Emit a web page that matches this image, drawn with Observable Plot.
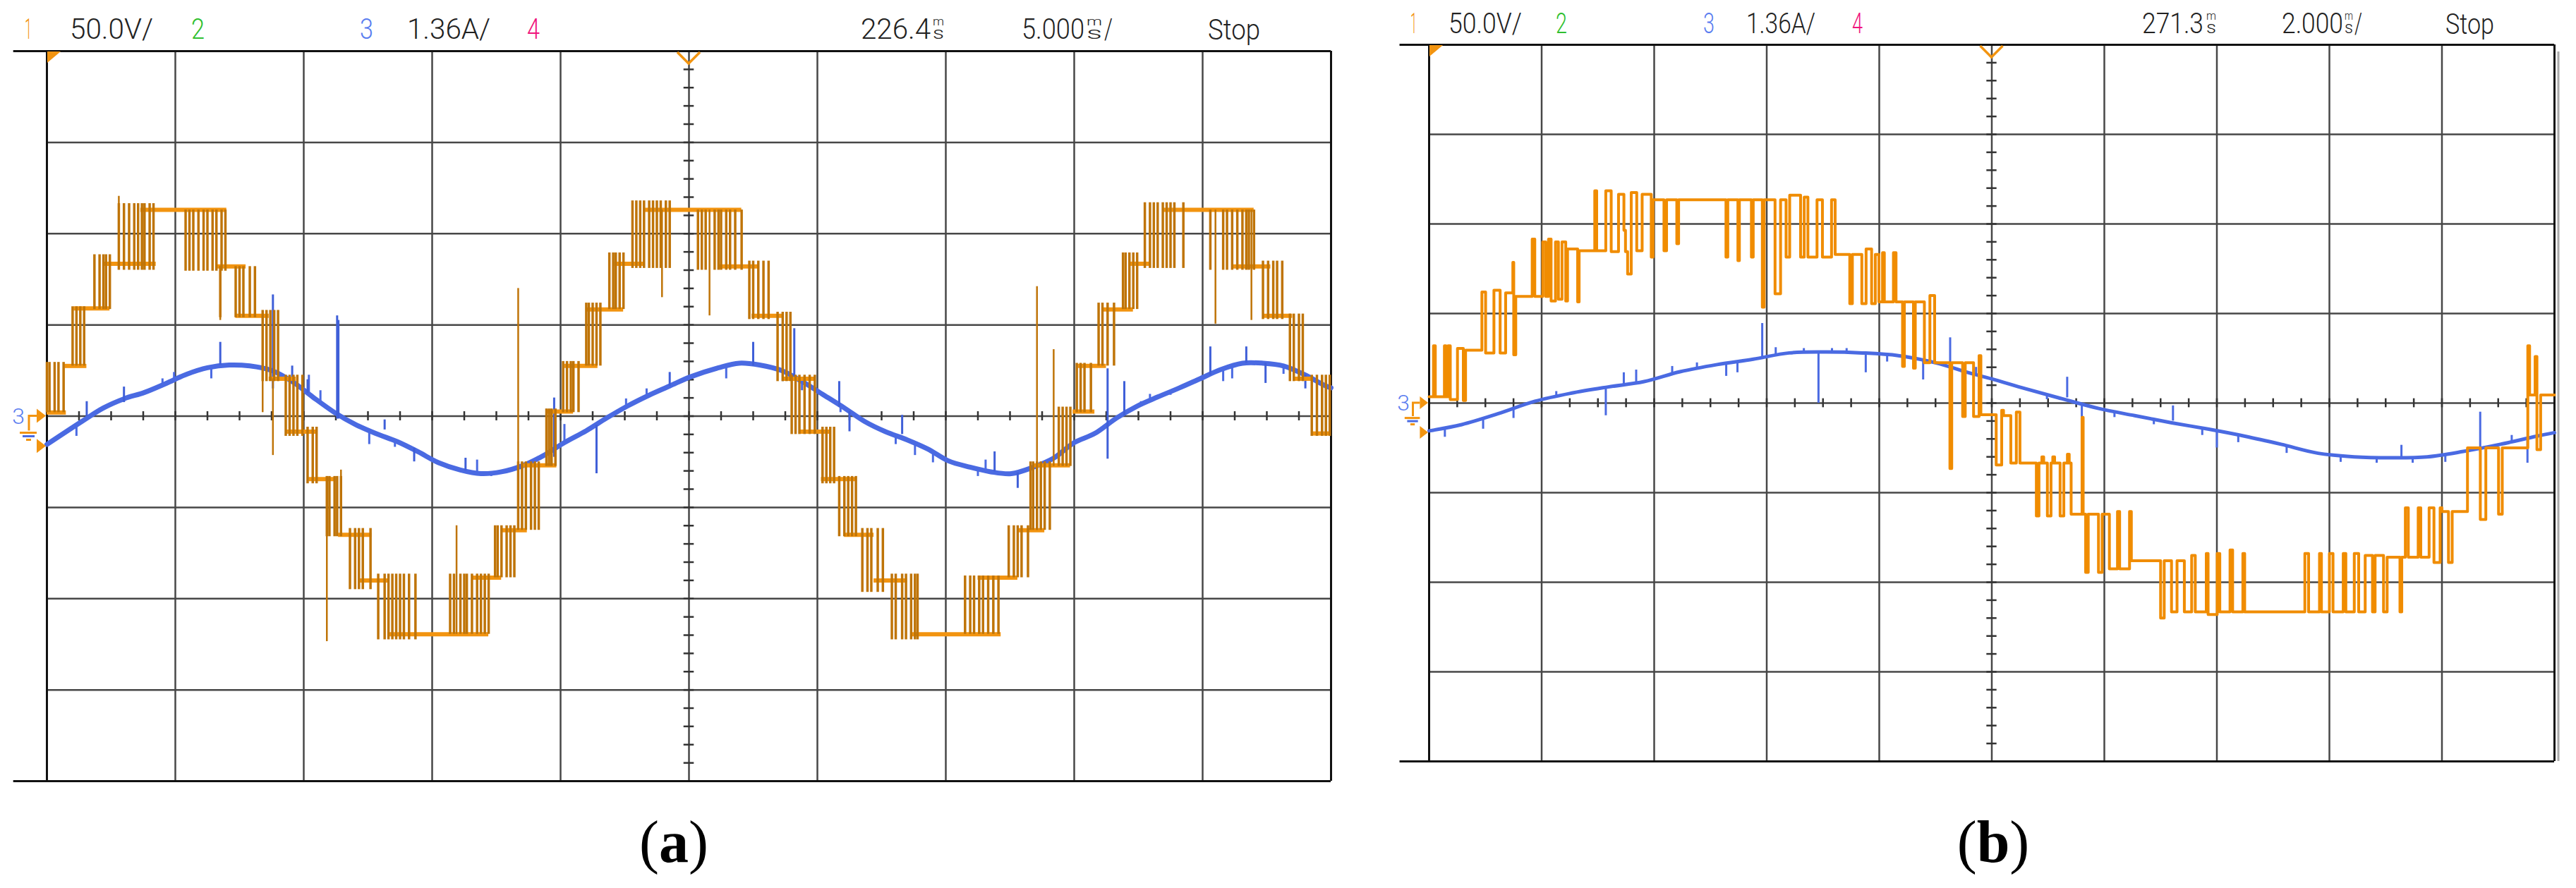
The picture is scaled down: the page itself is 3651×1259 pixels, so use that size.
<!DOCTYPE html>
<html><head><meta charset="utf-8">
<script src="https://cdn.jsdelivr.net/npm/d3@7"></script>
<script src="https://cdn.jsdelivr.net/npm/@observablehq/plot@0.6"></script>
<style>
html,body{margin:0;padding:0;background:#fff;width:3651px;height:1259px;overflow:hidden;}
#root{position:relative;width:3651px;height:1259px;}
</style></head><body><div id="root"></div>
<script>
// ===== DATA (screen divisions: x 0..10, y -4..4) =====
const chLabels = ["1", "50.0V/", "2", "3", "1.36A/", "4"];
const aTimeLabels = ["226.4", "5.000"];
const bTimeLabels = ["271.3", "2.000"];
const runLabel = "Stop";
const captions = ["a", "b"];

// Panel (a) — ch1 voltage plateaus [t0, t1, level]
const aPlateaus = [
 [0.00,0.15,0.04],[0.14,0.31,0.55],[0.21,0.49,1.18],[0.44,0.85,1.67],[0.73,1.40,2.26],
 [1.32,1.55,1.64],[1.47,1.73,1.10],[1.73,1.94,0.41],[1.86,2.11,-0.17],[2.04,2.25,-0.69],
 [2.27,2.53,-1.30],[2.43,2.66,-1.80],[2.66,3.44,-2.39],[3.31,3.54,-1.77],[3.54,3.74,-1.25],
 [3.71,3.97,-0.54],[3.90,4.10,0.05],[4.03,4.29,0.55],[4.20,4.49,1.17],[4.42,4.65,1.67],
 [4.66,5.41,2.26],[5.23,5.54,1.64],[5.49,5.73,1.10],[5.73,5.98,0.41],[5.86,6.11,-0.17],
 [6.03,6.30,-0.69],[6.21,6.44,-1.30],[6.44,6.70,-1.80],[6.73,7.43,-2.39],[7.25,7.56,-1.77],
 [7.56,7.77,-1.25],[7.68,7.97,-0.54],[7.99,8.16,0.05],[8.03,8.25,0.55],[8.23,8.46,1.17],
 [8.43,8.59,1.67],[8.69,9.40,2.26],[9.24,9.53,1.64],[9.47,9.70,1.10],[9.71,9.86,0.41],
 [9.86,10.0,-0.19]
];
// Panel (a) — PWM switching groups [low, high, [switch times]]
const aPulseGroups = [
 [0.04,0.59,[0.00,0.02,0.06,0.09,0.13]],
 [0.55,1.20,[0.20,0.23,0.26,0.29]],
 [1.17,1.77,[0.37,0.41,0.44,0.46,0.49]],
 [1.60,2.33,[0.56,0.60,0.64,0.68,0.71,0.74,0.76,0.80,0.83]],
 [1.59,2.26,[1.08,1.11,1.14,1.18,1.22,1.25,1.29,1.32,1.36,1.39]],
 [1.08,1.64,[1.35,1.47,1.50,1.53,1.58,1.62]],
 [0.38,1.16,[1.68,1.71,1.74,1.77,1.80]],
 [-0.22,0.45,[1.86,1.89,1.92,1.95,1.99]],
 [-0.74,-0.12,[2.03,2.07,2.10]],
 [-1.32,-0.66,[2.18,2.20,2.24,2.26,2.29]],
 [-1.90,-1.23,[2.36,2.40,2.43,2.46,2.52]],
 [-2.45,-1.73,[2.58,2.63,2.66,2.69,2.72,2.75,2.78,2.82,2.87]],
 [-2.39,-1.73,[3.14,3.17,3.22,3.25,3.27,3.31,3.35,3.38,3.41,3.44]],
 [-1.77,-1.20,[3.49,3.51,3.54,3.58,3.61,3.64]],
 [-1.25,-0.50,[3.67,3.70,3.73,3.77,3.80,3.83]],
 [-0.55,0.08,[3.89,3.91,3.93,3.96]],
 [0.04,0.60,[4.02,4.05,4.08,4.10,4.14]],
 [0.55,1.24,[4.20,4.22,4.25,4.28,4.31]],
 [1.17,1.79,[4.38,4.41,4.43,4.46,4.49]],
 [1.62,2.36,[4.56,4.59,4.62,4.65,4.69,4.72,4.75,4.78,4.82,4.85]],
 [1.60,2.26,[5.07,5.10,5.13,5.20,5.23,5.25,5.29,5.32,5.36,5.41]],
 [1.06,1.70,[5.47,5.50,5.54,5.58,5.62]],
 [0.38,1.14,[5.69,5.73,5.76,5.79]],
 [-0.20,0.45,[5.80,5.83,5.86,5.90,5.94,5.98]],
 [-0.74,-0.12,[6.04,6.07,6.10,6.13]],
 [-1.32,-0.66,[6.17,6.21,6.24,6.27,6.30]],
 [-1.93,-1.23,[6.35,6.39,6.42,6.47,6.51]],
 [-2.45,-1.73,[6.58,6.61,6.66,6.69,6.73,6.76,6.78]],
 [-2.39,-1.75,[7.15,7.19,7.22,7.26,7.29,7.33,7.37,7.41]],
 [-1.77,-1.20,[7.49,7.53,7.56,7.59,7.64]],
 [-1.25,-0.50,[7.66,7.68,7.71,7.74,7.77,7.81]],
 [-0.55,0.10,[7.88,7.91,7.94,7.97]],
 [0.04,0.58,[8.02,8.05,8.08,8.13]],
 [0.55,1.24,[8.19,8.22,8.26,8.31]],
 [1.17,1.79,[8.38,8.40,8.43,8.46,8.49]],
 [1.62,2.34,[8.55,8.59,8.62,8.65,8.69,8.72,8.75,8.78,8.85]],
 [1.60,2.26,[9.06,9.16,9.19,9.23,9.27,9.31,9.34,9.36,9.40]],
 [1.06,1.70,[9.47,9.51,9.55,9.58,9.62]],
 [0.38,1.12,[9.68,9.71,9.75,9.78]],
 [-0.22,0.45,[9.85,9.89,9.93,9.96,9.99]]
];
// Panel (a) — isolated voltage spikes [t, y1, y2]
const aOrangeSpikes = [
 [0.56,1.65,2.41],[1.35,1.64,1.05],[1.68,1.10,0.04],[1.76,0.41,-0.43],[2.18,-0.69,-2.47],
 [2.29,-0.59,-1.30],[3.19,-2.39,-1.20],[3.67,-0.55,1.40],[4.79,2.26,1.30],[5.16,2.26,1.10],
 [7.71,-1.25,1.42],[7.84,-0.55,0.73],[9.10,2.26,1.01],[9.38,2.26,1.05]
];
// Panel (a) — ch3 current trace [t, y]
const aBlue = [
 [0.00,-0.31],[0.27,-0.06],[0.44,0.09],[0.60,0.19],[0.76,0.26],[0.93,0.36],[1.09,0.46],[1.25,0.53],
 [1.42,0.56],[1.58,0.55],[1.75,0.50],[1.91,0.38],[2.07,0.21],[2.24,0.04],[2.40,-0.09],[2.56,-0.19],
 [2.73,-0.28],[2.89,-0.39],[3.05,-0.51],[3.22,-0.59],[3.38,-0.63],[3.54,-0.61],[3.71,-0.54],[3.87,-0.43],
 [4.03,-0.29],[4.20,-0.16],[4.36,-0.02],[4.52,0.11],[4.69,0.23],[4.85,0.33],[5.01,0.43],[5.23,0.53],
 [5.39,0.58],[5.55,0.56],[5.72,0.50],[5.88,0.38],[6.04,0.24],[6.21,0.09],[6.37,-0.06],[6.53,-0.17],
 [6.70,-0.26],[6.86,-0.36],[7.02,-0.49],[7.19,-0.56],[7.35,-0.61],[7.51,-0.63],[7.68,-0.56],[7.84,-0.46],
 [8.00,-0.29],[8.16,-0.19],[8.33,-0.02],[8.49,0.11],[8.65,0.21],[8.82,0.31],[8.98,0.41],[9.14,0.51],
 [9.31,0.58],[9.47,0.58],[9.63,0.55],[9.80,0.45],[9.96,0.33],[10.0,0.31]
];
// Panel (a) — current spikes and small notches [t, y1, y2]
const aBlueSpikes = [
 [0.31,0.0,0.16],[0.60,0.15,0.32],[1.35,0.56,0.81],[1.76,0.30,1.33],[1.91,0.35,0.55],[2.03,0.25,0.40],
 [2.26,-0.03,1.10],[2.27,-0.03,1.05],[2.63,-0.15,-0.04],[2.86,-0.35,-0.50],[3.26,-0.60,-0.46],[3.95,-0.45,0.20],
 [4.28,-0.10,-0.63],[4.85,0.33,0.48],[5.50,0.55,0.81],[5.82,0.42,0.96],[6.17,0.10,0.38],[6.25,0.05,-0.17],
 [6.66,-0.20,0.01],[7.38,-0.61,-0.39],[7.56,-0.62,-0.79],[8.26,-0.47,0.52],[8.39,0.0,0.38],[9.06,0.45,0.76],
 [9.34,0.58,0.76],[9.49,0.58,0.36],[9.80,0.45,0.30]
];
const aBlueNotches = [
 [0.23,-0.10,-0.22],[0.90,0.35,0.41],[0.99,0.40,0.48],[1.28,0.53,0.41],[2.04,0.25,0.45],[2.13,0.15,0.28],
 [2.51,-0.16,-0.31],[2.71,-0.27,-0.34],[3.35,-0.62,-0.48],[3.46,-0.62,-0.66],[3.82,-0.46,-0.48],[4.03,-0.29,-0.09],
 [4.51,0.10,0.19],[4.67,0.22,0.30],[5.29,0.55,0.41],[5.73,0.50,0.38],[5.88,0.38,0.28],[6.18,0.10,0.04],
 [6.27,0.04,0.04],[6.42,-0.09,-0.09],[6.61,-0.21,-0.31],[6.76,-0.30,-0.43],[6.90,-0.38,-0.51],[7.25,-0.58,-0.66],
 [7.31,-0.60,-0.48],[8.52,0.12,0.16],[8.59,0.17,0.24],[8.75,0.27,0.23],[9.16,0.51,0.38],[9.23,0.54,0.41],[9.63,0.55,0.46]
];

// Panel (b) — ch1 voltage switching events [t, level] (step after)
const bOrange = [
 [0.000,0.07],[0.039,0.64],[0.055,0.07],[0.136,0.64],[0.149,0.07],[0.168,0.64],[0.188,0.04],[0.252,0.61],[0.304,0.03],[0.324,0.59],
 [0.469,1.24],[0.502,0.56],[0.576,1.26],[0.631,0.56],[0.680,1.23],[0.744,1.57],[0.752,0.54],[0.770,1.19],
 [0.916,1.83],[0.939,1.19],[1.010,1.80],[1.036,1.19],[1.061,1.83],[1.084,1.14],[1.123,1.80],[1.149,1.16],[1.181,1.80],[1.214,1.14],
 [1.230,1.72],[1.320,1.13],[1.333,1.70],[1.472,2.37],[1.489,1.70],[1.570,2.37],[1.618,1.69],[1.683,2.33],[1.731,1.93],[1.745,1.69],[1.764,1.44],[1.796,2.35],[1.845,1.70],[1.893,2.33],[1.974,1.63],[1.990,2.27],
 [2.087,1.70],[2.110,2.27],[2.201,1.78],[2.217,2.27],[2.638,1.63],[2.654,2.27],[2.744,1.59],[2.757,2.27],[2.864,1.63],[2.880,2.27],[2.961,1.07],[2.977,2.27],
 [3.074,1.22],[3.123,2.27],[3.172,1.63],[3.204,2.32],[3.301,1.63],[3.333,2.30],[3.366,1.63],[3.447,2.27],[3.495,1.63],[3.576,2.27],[3.608,1.66],
 [3.738,1.11],[3.761,1.66],[3.845,1.11],[3.883,1.72],[3.932,1.11],[3.965,1.66],[3.997,1.13],
 [4.029,1.68],[4.045,1.13],[4.126,1.68],[4.149,1.13],[4.207,0.41],[4.223,1.13],[4.304,0.39],[4.320,1.13],[4.401,0.45],[4.450,1.20],[4.492,0.45],[4.628,-0.73],[4.644,0.45],
 [4.741,-0.15],[4.764,0.45],[4.838,-0.15],[4.887,0.53],[4.903,-0.13],
 [5.039,-0.69],[5.088,-0.08],[5.104,-0.14],[5.169,-0.67],[5.218,-0.10],[5.250,-0.67],[5.396,-1.26],[5.419,-0.67],[5.445,-0.60],[5.461,-0.67],[5.494,-1.26],[5.526,-0.67],[5.542,-0.60],[5.558,-0.67],[5.607,-1.26],[5.640,-0.67],[5.672,-0.57],[5.688,-0.67],
 [5.705,-1.24],[5.802,-0.16],[5.812,-1.24],[5.834,-1.89],[5.857,-1.24],[5.948,-1.89],[5.981,-1.24],[6.045,-1.85],[6.117,-1.21],[6.136,-1.85],[6.224,-1.21],[6.240,-1.76],
 [6.500,-2.40],[6.532,-1.76],[6.597,-2.33],[6.646,-1.76],[6.711,-2.33],[6.776,-1.70],[6.808,-2.33],[6.906,-1.68],[6.922,-2.36],[7.003,-1.68],[7.026,-2.33],[7.117,-1.64],[7.140,-2.33],[7.231,-1.68],[7.247,-2.33],
 [7.782,-1.68],[7.815,-2.33],[7.912,-1.68],[7.929,-2.33],[8.000,-1.68],[8.032,-2.33],[8.123,-1.68],[8.146,-2.33],[8.221,-1.68],[8.260,-2.33],[8.318,-1.70],[8.383,-2.33],[8.406,-1.70],[8.481,-2.33],[8.513,-1.72],[8.627,-2.33],[8.643,-1.72],
 [8.675,-1.17],[8.701,-1.72],[8.789,-1.17],[8.812,-1.72],[8.886,-1.17],[8.929,-1.78],[8.984,-1.17],[9.000,-1.21],[9.058,-1.78],[9.091,-1.21],
 [9.227,-0.50],[9.341,-1.30],[9.390,-0.50],[9.503,-1.24],[9.536,-0.50],[9.763,0.64],[9.779,0.09],[9.828,0.52],[9.844,-0.52],[9.877,0.09],[10.000,0.09]
];
// Panel (b) — ch3 current trace [t, y]
const bBlue = [
 [0.00,-0.31],[0.29,-0.24],[0.61,-0.12],[0.94,0.02],[1.26,0.11],[1.59,0.18],[1.91,0.24],[2.23,0.35],
 [2.56,0.43],[2.88,0.49],[3.20,0.56],[3.53,0.57],[3.85,0.56],[4.17,0.53],[4.50,0.45],[4.82,0.33],
 [5.00,0.27],[5.30,0.16],[5.62,0.05],[5.95,-0.06],[6.27,-0.14],[6.60,-0.22],[6.92,-0.29],[7.25,-0.37],
 [7.57,-0.46],[7.90,-0.56],[8.22,-0.60],[8.55,-0.61],[8.87,-0.60],[9.19,-0.54],[9.52,-0.46],[9.84,-0.37],[10.0,-0.33]
];
const bBlueSpikes = [
 [1.57,0.18,-0.14],[1.73,0.21,0.34],[1.84,0.23,0.37],[2.64,0.43,0.30],[2.96,0.50,0.89],[3.46,0.57,0.00],
 [3.88,0.55,0.34],[4.39,0.48,0.26],[4.63,0.40,0.73],[5.67,0.06,0.29],[5.80,0.0,-0.18],[6.61,-0.20,-0.03],
 [7.00,-0.30,-0.50],[8.64,-0.60,-0.47],[9.34,-0.55,-0.10],[9.76,-0.42,-0.67]
];
const bBlueNotches = [
 [0.14,-0.28,-0.38],[0.48,-0.17,-0.29],[0.75,-0.06,-0.17],[1.13,0.07,0.13],[2.16,0.33,0.41],[2.38,0.38,0.45],
 [2.74,0.46,0.34],[3.08,0.54,0.62],[3.33,0.57,0.61],[3.58,0.57,0.61],[3.71,0.57,0.61],[4.07,0.55,0.46],
 [4.86,0.32,0.40],[5.49,0.10,0.04],[6.09,-0.10,-0.16],[6.44,-0.18,-0.24],[6.87,-0.28,-0.36],[7.19,-0.36,-0.44],
 [7.62,-0.48,-0.56],[8.10,-0.59,-0.66],[8.42,-0.61,-0.67],[8.74,-0.61,-0.67],[9.03,-0.57,-0.66],[9.62,-0.43,-0.36]
];
// channel 3 ground reference (divisions)
const ch3Ground = -0.33;

// ===== STYLE / LAYOUT =====
const ORANGE = "#f29410", ORANGE_D = "#bf7408", BLUE = "#4a6ae2", GRID = "#474747", BORDER = "#111";
const chColors = [ORANGE, "#222", "#2fbf2f", "#5a7df0", "#222", "#f0147c"];
const root = document.getElementById("root");

function gridMarks(tickH, tickW) {
  return [
    Plot.ruleX(d3.range(1, 10), {y1: -4, y2: 4, stroke: GRID, strokeWidth: 2.5}),
    Plot.ruleY([-3, -2, -1, 0, 1, 2, 3], {x1: 0, x2: 10, stroke: GRID, strokeWidth: 2.5}),
    Plot.ruleX(d3.range(0.25, 10, 0.25), {y1: -tickH, y2: tickH, stroke: "#333", strokeWidth: 2.5}),
    Plot.ruleY(d3.range(-3.8, 4, 0.2), {x1: 5 - tickW, x2: 5 + tickW, stroke: "#333", strokeWidth: 2.5}),
    Plot.ruleY([4, -4], {x1: -0.26, x2: 10, stroke: BORDER, strokeWidth: 3}),
    Plot.ruleX([0, 10], {y1: -4, y2: 4, stroke: BORDER, strokeWidth: 3})
  ];
}

function decorate(p, k) {
  const sx = p.scale("x"), sy = p.scale("y");
  const gx = sx.apply(0), gy = sy.apply(4), cx = sx.apply(5);
  const y0 = sy.apply(0), y1 = sy.apply(ch3Ground);
  const g = d3.select(p).append("g");
  g.append("path").attr("d", `M${gx+1},${gy+1}H${gx+20}L${gx+1},${gy+17}Z`).attr("fill", ORANGE);
  g.append("path").attr("d", `M${cx-16},${gy+2}L${cx},${gy+18}L${cx+16},${gy+2}`)
    .attr("fill", "none").attr("stroke", ORANGE).attr("stroke-width", 3.5);
  [y0, y1].forEach(y => g.append("path")
    .attr("d", `M${gx-14*k},${y-10*k}L${gx-1},${y}L${gx-14*k},${y+10*k}Z`).attr("fill", ORANGE));
  g.append("path").attr("d", `M${gx-14*k},${y0}H${gx-25*k}V${y0+21*k}`)
    .attr("fill", "none").attr("stroke", ORANGE).attr("stroke-width", 3);
  [[24, 38, 14], [29, 34, 17], [34, 29, 22]].forEach(([dy, a, b]) =>
    g.append("line").attr("x1", gx - a*k).attr("x2", gx - b*k).attr("y1", y0 + dy*k).attr("y2", y0 + dy*k)
      .attr("stroke", dy === 29 ? BLUE : ORANGE).attr("stroke-width", 3));
  g.append("text").attr("x", gx - 40*k).attr("y", y0 + 11).attr("text-anchor", "middle")
    .attr("font-family", "Roboto, 'DejaVu Sans', sans-serif").attr("font-weight", 300)
    .attr("font-size", 32).attr("fill", "#5a7df0").text("3");
  return g;
}

// ----- Panel (a) -----
const aPulses = aPulseGroups.flatMap(([lo, hi, ts]) => ts.map(t => [t, lo, hi]));
const pa = Plot.plot({
  width: 1916, height: 1119, marginLeft: 66, marginRight: 30, marginTop: 72, marginBottom: 12,
  x: {domain: [0, 10], axis: null}, y: {domain: [-4, 4], axis: null},
  style: {background: "transparent", overflow: "visible"},
  marks: [
    ...gridMarks(0.05, 0.04),
    Plot.line(aBlue, {x: d => d[0], y: d => d[1], stroke: BLUE, strokeWidth: 7, curve: "catmull-rom"}),
    Plot.ruleX(aBlueNotches, {x: d => d[0], y1: d => d[1], y2: d => d[2], stroke: BLUE, strokeWidth: 3}),
    Plot.ruleX(aBlueSpikes, {x: d => d[0], y1: d => d[1], y2: d => d[2], stroke: "#3f5fd8", strokeWidth: 3}),
    Plot.ruleY(aPlateaus, {y: d => d[2], x1: d => d[0], x2: d => d[1], stroke: ORANGE, strokeWidth: 6}),
    Plot.ruleX(aPulses, {x: d => d[0], y1: d => d[1], y2: d => d[2], stroke: ORANGE_D, strokeWidth: 3.5}),
    Plot.ruleX(aOrangeSpikes, {x: d => d[0], y1: d => d[1], y2: d => d[2], stroke: ORANGE_D, strokeWidth: 2.5})
  ]
});
pa.style.position = "absolute"; pa.style.left = "0px"; pa.style.top = "0px";
root.appendChild(pa);
decorate(pa, 1);

// ----- Panel (b) -----
const pb = Plot.plot({
  width: 1720, height: 1091, marginLeft: 85, marginRight: 40, marginTop: 63, marginBottom: 12,
  x: {domain: [0, 10], axis: null}, y: {domain: [-4, 4], axis: null},
  style: {background: "transparent", overflow: "visible"},
  marks: [
    ...gridMarks(0.05, 0.045),
    Plot.line(bBlue, {x: d => d[0], y: d => d[1], stroke: BLUE, strokeWidth: 5, curve: "catmull-rom"}),
    Plot.ruleX(bBlueNotches, {x: d => d[0], y1: d => d[1], y2: d => d[2], stroke: BLUE, strokeWidth: 3}),
    Plot.ruleX(bBlueSpikes, {x: d => d[0], y1: d => d[1], y2: d => d[2], stroke: BLUE, strokeWidth: 3}),
    Plot.line(bOrange, {x: d => d[0], y: d => d[1], stroke: "#f08c00", strokeWidth: 4, curve: "step-after"})
  ]
});
pb.style.position = "absolute"; pb.style.left = "1940px"; pb.style.top = "0px";
root.appendChild(pb);
const gb = decorate(pb, 0.9);
{
  const sx = pb.scale("x"), sy = pb.scale("y");
  gb.append("line").attr("x1", sx.apply(10) + 6).attr("x2", sx.apply(10) + 6)
    .attr("y1", sy.apply(4) + 10).attr("y2", sy.apply(-4)).attr("stroke", "#aaa").attr("stroke-width", 3);
}

// ----- Header text and captions overlay -----
const ov = d3.select(root).append("svg").attr("width", 3651).attr("height", 1259)
  .style("position", "absolute").style("left", "0px").style("top", "0px");
const FONT = "Roboto, 'DejaVu Sans', sans-serif";
function t(x0, x1, y, fs, str, fill) {
  ov.append("text").attr("x", x0).attr("y", y).attr("font-family", FONT).attr("font-weight", 300)
    .attr("font-size", fs).attr("fill", fill).attr("textLength", x1 - x0)
    .attr("lengthAdjust", "spacingAndGlyphs").text(str);
}
// one text element: number, stacked "m"/"s" unit, optional slash
function timeText(num, n, u, sl, y, fs) {
  const tx = ov.append("text").attr("font-family", FONT).attr("font-weight", 300).attr("fill", "#222");
  tx.append("tspan").attr("x", n[0]).attr("y", y).attr("font-size", fs)
    .attr("textLength", n[1] - n[0]).attr("lengthAdjust", "spacingAndGlyphs").text(num);
  tx.append("tspan").attr("x", u[0] + 1).attr("y", y - 19).attr("font-size", 16)
    .attr("textLength", u[1] - u[0] - 2).attr("lengthAdjust", "spacingAndGlyphs").text("m");
  tx.append("tspan").attr("x", u[0] + 1).attr("y", y).attr("font-size", 23)
    .attr("textLength", u[1] - u[0] - 2).attr("lengthAdjust", "spacingAndGlyphs").text("s");
  if (sl) tx.append("tspan").attr("x", sl[0]).attr("y", y).attr("font-size", fs)
    .attr("textLength", sl[1] - sl[0]).attr("lengthAdjust", "spacingAndGlyphs").text("/");
}
const hdr = [
  {y: 55, fs: 41, xs: [[35,45],[99,217],[271,290],[510,529],[577,695],[747,765]],
   t1: [1220,1319], u1: [1321,1339], t2: [1448,1537], u2: [1539,1563], sl: [1565,1577], st: [1712,1786], times: aTimeLabels},
  {y: 47, fs: 40, xs: [[1999,2008],[2053,2157],[2205,2221],[2414,2430],[2475,2573],[2625,2640]],
   t1: [3036,3123], u1: [3126,3142], t2: [3234,3321], u2: [3322,3336], sl: [3337,3348], st: [3466,3535], times: bTimeLabels}
];
hdr.forEach(h => {
  chLabels.forEach((s, i) => t(h.xs[i][0], h.xs[i][1], h.y, h.fs, s, chColors[i]));
  timeText(h.times[0], h.t1, h.u1, null, h.y, h.fs);
  timeText(h.times[1], h.t2, h.u2, h.sl, h.y, h.fs);
  t(h.st[0], h.st[1], h.y + 1, h.fs, runLabel, "#222");
});
[[955, captions[0]], [2825, captions[1]]].forEach(([x, c]) => {
  const tx = ov.append("text").attr("x", x).attr("y", 1222).attr("text-anchor", "middle")
    .attr("font-family", "'Liberation Serif', 'DejaVu Serif', serif").attr("font-size", 84).attr("fill", "#000");
  tx.append("tspan").text("(");
  tx.append("tspan").attr("font-weight", "bold").text(c);
  tx.append("tspan").text(")");
});
</script></body></html>
